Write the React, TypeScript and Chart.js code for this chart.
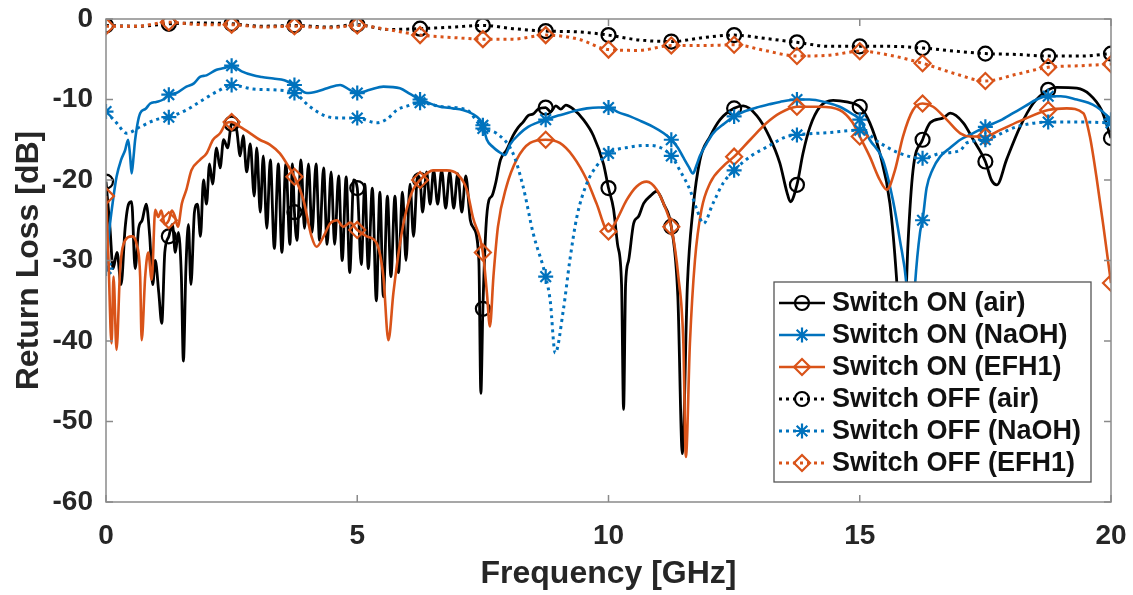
import React, { useEffect, useRef } from 'react';
import { Chart, registerables } from 'chart.js';

Chart.register(...registerables);

// ---------- data (frequency GHz, return loss dB) ----------
const xTickValues = [0, 5, 10, 15, 20];
const yTickValues = [0, -10, -20, -30, -40, -50, -60];
const MARKER_STEP = 1.25;

const seriesLabels = [
  'Switch ON (air)',
  'Switch ON (NaOH)',
  'Switch ON (EFH1)',
  'Switch OFF (air)',
  'Switch OFF (NaOH)',
  'Switch OFF (EFH1)',
];

const onAir: [number, number][] = [
  [0, -20.2], [0.08, -26], [0.14, -31], [0.22, -29], [0.3, -33], [0.38, -26], [0.45, -23], [0.51, -22.7],
  [0.58, -31], [0.65, -26], [0.72, -25], [0.8, -23], [0.87, -27], [0.93, -33], [0.98, -30], [1.05, -34],
  [1.11, -37.8], [1.17, -29], [1.25, -27], [1.32, -25.5], [1.38, -29], [1.44, -26.5], [1.5, -32], [1.54, -42.5],
  [1.59, -31], [1.64, -25.5], [1.69, -33], [1.76, -24], [1.82, -23], [1.88, -27], [1.94, -20], [2.0, -23],
  [2.06, -18], [2.12, -20.5], [2.2, -16], [2.27, -18.5], [2.34, -15], [2.42, -16], [2.5, -13], [2.6, -13.8],
  [2.67, -17], [2.73, -14.5], [2.8, -19], [2.87, -15.5], [2.95, -22], [3.0, -16], [3.07, -24], [3.13, -17],
  [3.2, -26], [3.27, -17.5], [3.35, -28.5], [3.43, -18], [3.5, -29], [3.58, -18], [3.66, -28], [3.71, -18],
  [3.75, -24], [3.8, -27.5], [3.88, -17.5], [3.95, -26], [4.03, -18], [4.1, -26.5], [4.18, -18], [4.25, -27.5],
  [4.33, -18.5], [4.4, -28], [4.48, -19], [4.55, -28], [4.63, -19.5], [4.7, -30], [4.78, -19.6], [4.85, -31.5],
  [4.93, -20], [5.0, -21], [5.08, -30.5], [5.15, -20.5], [5.22, -31], [5.3, -21], [5.38, -35], [5.45, -21.5],
  [5.52, -34.5], [5.6, -22], [5.67, -32], [5.75, -22], [5.82, -31.5], [5.9, -21.5], [5.97, -30], [6.05, -20.5],
  [6.12, -27], [6.2, -19.5], [6.25, -20], [6.3, -24], [6.38, -19], [6.45, -23], [6.52, -18.8], [6.6, -23],
  [6.68, -18.8], [6.76, -23.5], [6.84, -19], [6.92, -23.5], [7.0, -19.2], [7.08, -24], [7.16, -19.5], [7.25, -25],
  [7.32, -26], [7.42, -30], [7.46, -46.5], [7.5, -36], [7.56, -26], [7.62, -22.5], [7.68, -22], [7.75, -20.5],
  [7.85, -17.5], [7.97, -16.3], [8.1, -14.5], [8.2, -13.5], [8.3, -12.8], [8.4, -12], [8.5, -11.8], [8.6, -11.2],
  [8.75, -11], [8.85, -11.5], [8.95, -10.8], [9.05, -11.2], [9.15, -10.7], [9.3, -11.2], [9.5, -12.5], [9.7, -14.5],
  [9.9, -18], [10.0, -21], [10.1, -23.6], [10.18, -28], [10.26, -33], [10.3, -48.5], [10.34, -33], [10.4, -30],
  [10.5, -25.4], [10.6, -24.5], [10.7, -22.9], [10.83, -22], [10.96, -21.4], [11.1, -23], [11.25, -25.8], [11.38, -34.5],
  [11.47, -54], [11.57, -33], [11.68, -23.7], [11.82, -17.5], [12.02, -14.6], [12.22, -12.5], [12.5, -11.1], [12.68, -10.8],
  [12.95, -12], [13.2, -14.6], [13.41, -17.9], [13.55, -21.5], [13.62, -22.7], [13.75, -20.6], [13.87, -16.7], [14.01, -13.4],
  [14.21, -10.9], [14.47, -10.1], [14.74, -10.3], [15.0, -10.9], [15.2, -12.9], [15.4, -16.7], [15.6, -22.9], [15.73, -32],
  [15.85, -45], [15.96, -27.9], [16.06, -18.8], [16.25, -15], [16.4, -12.9], [16.66, -12.3], [16.8, -11.7], [17.06, -12.9],
  [17.26, -15], [17.5, -17.7], [17.62, -20], [17.73, -20.6], [17.92, -17.5], [18.19, -13.4], [18.45, -10.5], [18.75, -8.8],
  [18.92, -8.5], [19.32, -8.6], [19.58, -9.4], [19.81, -11.3], [20, -14.8],
];

const onNaOH: [number, number][] = [
  [0, -31], [0.07, -26], [0.14, -22.5], [0.21, -19.6], [0.3, -17.5], [0.38, -16.3], [0.44, -15], [0.48, -17],
  [0.51, -19.2], [0.55, -17], [0.58, -15], [0.68, -11.7], [0.78, -11.2], [0.88, -10.5], [1.0, -10.3], [1.14, -10],
  [1.25, -9.4], [1.4, -9.2], [1.6, -8.4], [1.75, -8], [1.87, -7.2], [2.0, -7], [2.2, -6.3], [2.35, -6.1],
  [2.5, -5.8], [2.7, -6.5], [2.93, -7], [3.1, -7.2], [3.33, -7.4], [3.55, -7.6], [3.75, -8.2], [4.0, -9.2],
  [4.2, -9], [4.4, -8.6], [4.66, -8.2], [4.85, -8.8], [5.0, -9.2], [5.25, -8.8], [5.52, -8.4], [5.85, -8.6],
  [6.05, -9.3], [6.25, -10], [6.45, -10.5], [6.65, -10.9], [6.9, -11.1], [7.1, -11.3], [7.3, -11.8], [7.44, -12.5],
  [7.5, -13.2], [7.58, -15], [7.7, -15.9], [7.82, -16.5], [7.94, -16.9], [8.04, -15.6], [8.24, -14.2], [8.4, -13.4],
  [8.57, -12.9], [8.75, -12.5], [9.0, -12], [9.17, -11.7], [9.4, -11.3], [9.57, -11.1], [9.8, -11], [10.0, -11],
  [10.2, -11.6], [10.43, -12.1], [10.65, -12.7], [10.89, -13.4], [11.1, -14.2], [11.25, -15], [11.38, -16], [11.48, -17.1],
  [11.6, -18.4], [11.68, -19.2], [11.75, -18.2], [11.82, -17], [11.95, -15.5], [12.08, -14.2], [12.3, -13], [12.5, -12.1],
  [12.7, -11.5], [12.95, -11], [13.2, -10.6], [13.41, -10.3], [13.75, -10], [14.0, -10], [14.3, -10.3], [14.6, -10.9],
  [14.85, -11.8], [15.0, -12.5], [15.2, -15], [15.46, -17.5], [15.66, -22.5], [15.8, -27.5], [15.93, -33], [16.02, -42],
  [16.1, -33], [16.2, -26.5], [16.25, -25], [16.33, -21], [16.45, -18.7], [16.6, -17.1], [16.8, -16], [17.0, -15],
  [17.25, -14.2], [17.5, -13.4], [17.8, -12.6], [18.05, -11.7], [18.3, -10.8], [18.52, -10], [18.75, -9.6], [19.0, -9.6],
  [19.32, -10], [19.55, -10.4], [19.71, -10.9], [19.85, -11.6], [20, -12.5],
];

const onEFH1: [number, number][] = [
  [0, -22], [0.05, -30], [0.11, -40.3], [0.15, -32], [0.21, -41.1], [0.28, -31.2], [0.38, -27.5], [0.51, -27],
  [0.61, -28], [0.68, -32], [0.71, -39.9], [0.78, -32], [0.84, -29], [0.91, -32.4], [0.98, -23.7], [1.04, -24.6],
  [1.1, -23.8], [1.17, -25.5], [1.25, -25], [1.31, -23.8], [1.37, -24.5], [1.43, -25.8], [1.51, -22.9], [1.6, -21.2],
  [1.7, -18.8], [1.87, -17.5], [2.0, -16.7], [2.13, -15], [2.27, -14.2], [2.4, -12.9], [2.5, -12.8], [2.67, -13.4],
  [2.87, -14.2], [3.06, -15], [3.26, -15.6], [3.46, -16.7], [3.6, -18], [3.75, -19.6], [3.93, -22.5], [4.09, -27],
  [4.19, -28.3], [4.33, -27], [4.46, -25.4], [4.6, -25], [4.72, -25.8], [4.86, -25.3], [5.0, -26.2], [5.19, -27],
  [5.39, -27.9], [5.52, -32], [5.62, -39.9], [5.72, -34], [5.85, -27.9], [5.98, -23.7], [6.11, -21.2], [6.25, -20],
  [6.51, -18.8], [6.78, -18.8], [6.98, -19.2], [7.18, -21.2], [7.3, -24.6], [7.5, -29], [7.58, -34], [7.64, -38.2],
  [7.71, -32], [7.8, -25.8], [7.97, -20.8], [8.17, -17.5], [8.44, -15.4], [8.75, -15], [9.03, -15.4], [9.3, -17.1],
  [9.57, -20], [9.76, -22.9], [10.0, -26.4], [10.16, -25], [10.36, -22.5], [10.56, -20.8], [10.76, -20.2], [10.96, -21.2],
  [11.12, -23.3], [11.25, -25.8], [11.39, -32], [11.49, -40.3], [11.54, -54.4], [11.62, -40.3], [11.72, -30], [11.85, -23.7],
  [12.02, -20.4], [12.28, -18.3], [12.5, -17.1], [12.82, -15], [13.15, -12.9], [13.41, -11.7], [13.75, -10.9], [14.2, -10.9],
  [14.6, -11.3], [14.85, -12.8], [15.0, -14.6], [15.2, -17.1], [15.4, -20], [15.54, -21.2], [15.7, -18.8], [15.86, -14.6],
  [16.06, -11.3], [16.25, -10.5], [16.46, -10.9], [16.73, -12.5], [17.0, -14.2], [17.2, -14.6], [17.5, -14.6], [17.79, -13.8],
  [18.25, -12.5], [18.75, -11.3], [19.12, -11.1], [19.45, -11.7], [19.58, -14.6], [19.71, -19.6], [19.85, -25.8], [20, -32.8],
];

const offAir: [number, number][] = [
  [0, -0.8], [0.6, -0.9], [1.25, -0.6], [1.9, -0.5], [2.5, -0.6], [3.1, -0.9], [3.75, -0.8], [4.4, -1.0],
  [5.0, -0.7], [5.6, -1.3], [6.25, -1.2], [6.9, -1.0], [7.5, -0.8], [8.1, -1.2], [8.75, -1.5], [9.4, -1.6],
  [10.0, -2.0], [10.6, -2.6], [11.25, -2.8], [11.9, -2.3], [12.5, -2.0], [13.1, -2.4], [13.75, -2.9], [14.4, -3.4],
  [15.0, -3.4], [15.6, -3.4], [16.25, -3.6], [16.9, -4.0], [17.5, -4.3], [18.1, -4.4], [18.75, -4.6], [19.4, -4.6],
  [20, -4.3],
];

const offNaOH: [number, number][] = [
  [0, -11.5], [0.21, -12.9], [0.41, -14.2], [0.68, -13.4], [1.0, -12.5], [1.25, -12.2], [1.6, -11.3], [1.94, -10],
  [2.27, -8.8], [2.5, -8.2], [2.93, -8.7], [3.33, -8.8], [3.75, -9.2], [4.06, -10.9], [4.39, -12.1], [4.7, -12.3],
  [5.0, -12.3], [5.39, -12.9], [5.6, -12.4], [5.79, -11.3], [6.0, -10.8], [6.25, -10.4], [6.7, -10.9], [7.18, -11.3],
  [7.5, -13.6], [7.77, -14.2], [8.1, -16.7], [8.3, -20.8], [8.5, -26.6], [8.75, -32], [8.84, -35], [8.94, -41.5],
  [9.1, -36.2], [9.23, -30], [9.37, -24.6], [9.57, -20.4], [9.76, -18.3], [10.0, -16.7], [10.43, -15.9], [10.83, -15.7],
  [11.25, -17], [11.42, -18.8], [11.62, -21.2], [11.76, -23.7], [11.89, -25.4], [12.08, -22.9], [12.28, -20.4], [12.5, -18.8],
  [12.82, -17.1], [13.15, -15.9], [13.55, -14.6], [13.75, -14.4], [14.4, -14.1], [15.0, -13.8], [15.4, -15.4], [15.8, -16.7],
  [16.25, -17.3], [16.6, -16.7], [17.0, -16.3], [17.13, -15.4], [17.5, -15], [18.12, -13.4], [18.75, -12.8], [19.4, -12.8],
  [20, -12.9],
];

const offEFH1: [number, number][] = [
  [0, -0.9], [0.6, -0.9], [1.25, -0.4], [1.9, -0.7], [2.5, -0.7], [3.1, -1.0], [3.75, -0.9], [4.4, -1.1],
  [5.0, -0.8], [5.6, -1.3], [6.25, -2.0], [6.9, -2.3], [7.5, -2.5], [8.1, -2.5], [8.75, -2.0], [9.4, -2.5],
  [10.0, -3.8], [10.6, -3.9], [11.25, -3.3], [11.9, -3.3], [12.5, -3.2], [13.1, -3.9], [13.75, -4.6], [14.4, -4.5],
  [15.0, -4.0], [15.6, -4.5], [16.25, -5.5], [16.9, -6.8], [17.5, -7.7], [18.1, -6.9], [18.75, -6.0], [19.4, -5.8],
  [20, -5.6],
];

const seriesData = [onAir, onNaOH, onEFH1, offAir, offNaOH, offEFH1];
const seriesColors = ['#000000', '#0072BD', '#D95319', '#000000', '#0072BD', '#D95319'];
const seriesMarkers = ['circle', 'star', 'rectRot', 'circle', 'star', 'rectRot'];
const seriesDotted = [false, false, false, true, true, true];

// ---------- styling ----------
const FONT_FAMILY = '"Liberation Sans", Arial, Helvetica, sans-serif';
const TEXT_COLOR = '#262626';
const FRAME_COLOR = '#8a8a8a';
const DOT_DASH = [3, 4];

const markerRadius = (style: string) => (style === 'circle' ? 7 : style === 'rectRot' ? 8 : 7.5);

const isMarkerX = (x: number) => {
  const k = x / MARKER_STEP;
  return Math.abs(k - Math.round(k)) < 1e-6;
};

function drawMarkerShape(ctx: CanvasRenderingContext2D, style: string, x: number, y: number, r: number) {
  ctx.beginPath();
  if (style === 'circle') {
    ctx.arc(x, y, r, 0, Math.PI * 2);
  } else if (style === 'rectRot') {
    ctx.moveTo(x, y - r);
    ctx.lineTo(x + r, y);
    ctx.lineTo(x, y + r);
    ctx.lineTo(x - r, y);
    ctx.closePath();
  } else {
    const d = r * Math.SQRT1_2;
    ctx.moveTo(x - r, y); ctx.lineTo(x + r, y);
    ctx.moveTo(x, y - r); ctx.lineTo(x, y + r);
    ctx.moveTo(x - d, y - d); ctx.lineTo(x + d, y + d);
    ctx.moveTo(x - d, y + d); ctx.lineTo(x + d, y - d);
  }
  ctx.stroke();
}

const framePlugin = {
  id: 'matlabFrame',
  afterDatasetsDraw(chart: any) {
    const { ctx, chartArea } = chart;
    const { left, right, top, bottom } = chartArea;
    const xs = chart.scales.x;
    const ys = chart.scales.y;
    ctx.save();
    // axes box
    ctx.strokeStyle = FRAME_COLOR;
    ctx.lineWidth = 1.5;
    ctx.setLineDash([]);
    ctx.strokeRect(left, top, right - left, bottom - top);
    // inward ticks
    const tl = 7;
    ctx.beginPath();
    xTickValues.forEach((v) => {
      const px = xs.getPixelForValue(v);
      ctx.moveTo(px, bottom); ctx.lineTo(px, bottom - tl);
      ctx.moveTo(px, top); ctx.lineTo(px, top + tl);
    });
    yTickValues.forEach((v) => {
      const py = ys.getPixelForValue(v);
      ctx.moveTo(left, py); ctx.lineTo(left + tl, py);
      ctx.moveTo(right, py); ctx.lineTo(right - tl, py);
    });
    ctx.stroke();

    // legend box (inside the axes, bottom right)
    const fontSize = 27;
    ctx.font = `bold ${fontSize}px ${FONT_FAMILY}`;
    const maxW = Math.max(...seriesLabels.map((s) => ctx.measureText(s).width));
    const sampleW = 58;
    const rowH = 32;
    const w = sampleW + maxW + 10;
    const h = rowH * seriesLabels.length + 8;
    const x0 = right - 20 - w;
    const y0 = bottom - 20 - h;
    ctx.fillStyle = '#ffffff';
    ctx.fillRect(x0, y0, w, h);
    ctx.strokeStyle = '#555555';
    ctx.lineWidth = 1.3;
    ctx.strokeRect(x0, y0, w, h);
    seriesLabels.forEach((label, i) => {
      const cy = y0 + 21 + i * rowH;
      const color = seriesColors[i];
      ctx.strokeStyle = color;
      ctx.lineWidth = seriesDotted[i] ? 3 : 2.6;
      ctx.setLineDash(seriesDotted[i] ? DOT_DASH : []);
      ctx.beginPath();
      ctx.moveTo(x0 + 5, cy);
      ctx.lineTo(x0 + 51, cy);
      ctx.stroke();
      ctx.setLineDash([]);
      ctx.lineWidth = 2.2;
      drawMarkerShape(ctx, seriesMarkers[i], x0 + 28, cy, markerRadius(seriesMarkers[i]));
      ctx.fillStyle = '#111111';
      ctx.textAlign = 'left';
      ctx.textBaseline = 'middle';
      ctx.fillText(label, x0 + sampleW, cy + 1);
    });
    ctx.restore();
  },
};

export default function App() {
  const canvasRef = useRef<HTMLCanvasElement | null>(null);

  useEffect(() => {
    const canvas = canvasRef.current;
    if (!canvas) return;

    const datasets = seriesData.map((pts, i) => ({
      label: seriesLabels[i],
      data: pts.map(([x, y]) => ({ x, y })),
      borderColor: seriesColors[i],
      backgroundColor: 'rgba(0,0,0,0)',
      borderWidth: seriesDotted[i] ? 3 : i === 0 ? 2.8 : 2.6,
      borderDash: seriesDotted[i] ? DOT_DASH : [],
      borderCapStyle: 'butt',
      pointStyle: seriesMarkers[i],
      pointRadius: (c: any) => (c.raw && isMarkerX(c.raw.x) ? markerRadius(seriesMarkers[i]) : 0),
      pointBorderWidth: 2.2,
      pointBorderColor: seriesColors[i],
      pointBackgroundColor: 'rgba(0,0,0,0)',
      pointHitRadius: 0,
      pointHoverRadius: 0,
      cubicInterpolationMode: 'monotone',
      fill: false,
      order: seriesLabels.length - i,
    }));

    const tickFont = { family: FONT_FAMILY, size: 28, weight: 'bold' as const };
    const titleFont = { family: FONT_FAMILY, size: 32, weight: 'bold' as const };

    const chart = new Chart(canvas, {
      type: 'line',
      data: { datasets } as any,
      options: {
        responsive: false,
        animation: false,
        events: [],
        layout: { padding: { top: 19, right: 22, left: 0, bottom: 0 } },
        plugins: { legend: { display: false }, tooltip: { enabled: false } },
        scales: {
          x: {
            type: 'linear',
            min: 0,
            max: 20,
            afterBuildTicks: (s: any) => { s.ticks = xTickValues.map((v) => ({ value: v })); },
            afterFit: (s: any) => { s.height = 93; s.paddingLeft = 0; s.paddingRight = 0; },
            ticks: { font: tickFont, color: TEXT_COLOR, padding: 17, maxRotation: 0, autoSkip: false },
            grid: { display: false, drawTicks: false },
            border: { display: false },
            title: { display: true, text: 'Frequency [GHz]', font: titleFont, color: TEXT_COLOR, padding: { top: 0, bottom: 2 } },
          },
          y: {
            type: 'linear',
            min: -60,
            max: 0,
            afterBuildTicks: (s: any) => { s.ticks = yTickValues.map((v) => ({ value: v })); },
            afterFit: (s: any) => { s.width = 106; s.paddingTop = 0; s.paddingBottom = 0; },
            ticks: { font: tickFont, color: TEXT_COLOR, padding: 13, autoSkip: false },
            grid: { display: false, drawTicks: false },
            border: { display: false },
            title: { display: true, text: 'Return Loss [dB]', font: titleFont, color: TEXT_COLOR, padding: { top: 10, bottom: 0 } },
          },
        },
      } as any,
      plugins: [framePlugin],
    });

    return () => chart.destroy();
  }, []);

  return (
    <div style={{ position: 'absolute', left: 0, top: 0, width: 1133, height: 595, background: '#ffffff' }}>
      <canvas ref={canvasRef} width={1133} height={595} style={{ display: 'block' }} />
    </div>
  );
}
